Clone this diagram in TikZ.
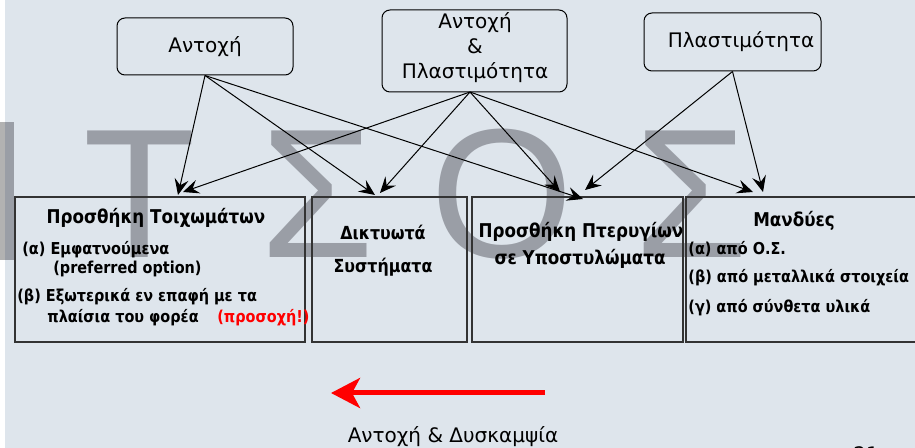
\documentclass[tikz,border=0pt]{standalone}
\usepackage{fontspec}
\setmainfont{DejaVu Sans}
\newfontfamily\markfont{Liberation Sans}
\newfontfamily\boxfont[FakeStretch=0.88]{DejaVu Sans}
\usetikzlibrary{arrows.meta}
\definecolor{slide}{RGB}{222,229,236}
\definecolor{wmgray}{RGB}{154,158,166}
\definecolor{wmlight}{RGB}{178,178,178}
\definecolor{alert}{RGB}{255,0,0}

\begin{document}
\begin{tikzpicture}[
    x=.5pt, y=-.5pt,
    topbox/.style={draw=black, line width=.5pt, rounded corners=4pt,
        inner sep=0pt, font=\fontsize{10}{12.5}\selectfont, align=center},
    panel/.style={draw=black!80, line width=.6pt, inner sep=0pt},
    link/.style={-{Stealth[length=8pt, width=7pt, inset=3pt]},
        line width=.5pt},
    wmark/.style={font=\markfont\fontsize{92}{92}\selectfont, text=wmgray,
        inner sep=0pt, anchor=base},
    head/.style={font=\boxfont\bfseries\fontsize{9.5}{11}\selectfont,
        inner sep=0pt, anchor=base},
    item/.style={font=\boxfont\bfseries\fontsize{8.2}{10}\selectfont,
        inner sep=0pt, anchor=base west},
]
    %% the slide and its frame
    \useasboundingbox (0,0) rectangle (915,448);
    \clip (0,0) rectangle (915,448);
    \fill[slide] (0,0) rectangle (915,448);
    \fill[white] (0,0) rectangle (5,448);

    %% the watermark letters behind everything
    \fill[wmlight] (0,122) rectangle (5,260);
    \fill[wmgray] (5,122) rectangle (14,260);
    \foreach \c/\x [count=\i] in {Τ/140, Σ/317, Ο/502, Σ/691}
        \node[wmark] (wm\i) at (\x,258) {\c};

    %% the three properties
    \node[topbox, minimum width=88pt, minimum height=28.5pt] (A)
        at (205,46.5) {Αντοχή};
    \node[topbox, minimum width=92.5pt, minimum height=41pt] (B)
        at (474.5,51) {};
    \node[topbox, inner sep=0pt] (Btext) at (475,48) [draw=none]
        {Αντοχή\\\&\\Πλαστιμότητα};
    \node[topbox, minimum width=88.5pt, minimum height=29pt] (C)
        at (732.5,42) {};
    \node[topbox, draw=none] (Ctext) at (741,42) {Πλαστιμότητα};

    %% the four interventions
    \node[panel, minimum width=145pt, minimum height=72.5pt] (b1)
        at (160,269.5) {};
    \node[panel, minimum width=77.5pt, minimum height=72.5pt] (b2)
        at (389.5,269.5) {};
    \node[panel, minimum width=105.5pt, minimum height=72.5pt] (b3)
        at (577.5,269.5) {};
    \node[panel, minimum width=119.5pt, minimum height=72.5pt] (b4)
        at (805.5,269.5) {};

    % walls
    \node[head] (b1h) at (156,224) {Προσθήκη Τοιχωμάτων};
    \node[item] (b1a) at (22,255) {(α) Εμφατνούμενα};
    \node[item] (b1p) at (53,274) {(preferred option)};
    \node[item] (b1b) at (17,302) {(β) Εξωτερικά εν επαφή με τα};
    \node[item] (b1c) at (47,323) {πλαίσια του φορέα};
    \node[item, text=alert] (b1w) at (217,323) {(προσοχή!)};
    % bracing
    \node[head, font=\boxfont\bfseries\fontsize{9}{11}\selectfont] (b2h)
        at (383,240) {Δικτυωτά};
    \node[head, font=\boxfont\bfseries\fontsize{9}{11}\selectfont] (b2s)
        at (383,273) {Συστήματα};
    % wing walls
    \node[head] (b3h) at (581,238) {Προσθήκη Πτερυγίων};
    \node[head] (b3s) at (580,265) {σε Υποστυλώματα};
    % jackets
    \node[head] (b4h) at (794,227) {Μανδύες};
    \node[item] (b4a) at (688,255) {(α) από Ο.Σ.};
    \node[item] (b4b) at (688,283) {(β) από μεταλλικά στοιχεία};
    \node[item] (b4c) at (688,313) {(γ) από σύνθετα υλικά};

    %% where the arrows land
    \coordinate (a1) at (178,195);
    \coordinate (a2) at (375,195);
    \coordinate (a3) at (583,199);
    \coordinate (m1) at (183,192);
    \coordinate (m2) at (380,193);
    \coordinate (m3) at (560,192);
    \coordinate (m4) at (753,192);
    \coordinate (p3) at (585,190);
    \coordinate (p4) at (763,192);
    \coordinate (Bout) at (470,92);

    \foreach \t in {a1, a2, a3}
        \draw[link] (A.south) -- (\t);
    \foreach \t in {m1, m2, m3, m4}
        \draw[link] (Bout) -- (\t);
    \foreach \t in {p3, p4}
        \draw[link] (C.south) -- (\t);

    %% the red arrow and its caption
    \coordinate (r0) at (545,393);
    \coordinate (r1) at (331,393);
    \draw[alert, line width=2.5pt,
        -{Stealth[length=14.5pt, width=15pt, inset=4pt]}] (r0) -- (r1);
    \node[font=\fontsize{10}{12}\selectfont, inner sep=0pt, anchor=base]
        (cap) at (453,443) {Αντοχή \& Δυσκαμψία};
    \node[font=\fontsize{10}{12}\selectfont, inner sep=0pt, anchor=base]
        (pg) at (866,461) {21};
\end{tikzpicture}
\end{document}
